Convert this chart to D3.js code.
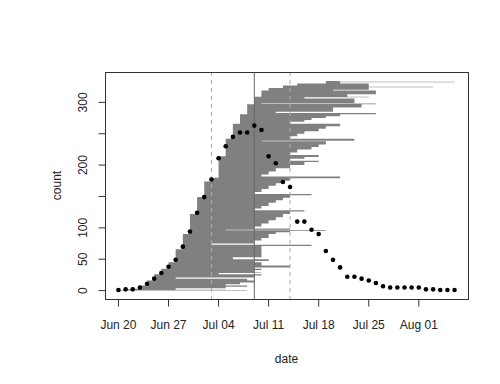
<!DOCTYPE html>
<html><head><meta charset="utf-8">
<script src="https://cdn.jsdelivr.net/npm/d3@7"></script>
<style>body{margin:0;background:#fff}svg{display:block}text{font-family:"Liberation Sans",Arial,sans-serif}</style>
</head><body><svg id="c" width="500" height="384"></svg>
<script>
// daily counts (points), Jun 20 .. Aug 06
const pointDates = d3.timeDays(new Date(2020,5,20), new Date(2020,7,7)).map(d=>d3.timeFormat("%m-%d")(d));
const pointCounts = [1,2,2,5,11,19,28,38,49,70,94,124,149,177,211,230,245,252,252,263,256,214,203,173,165,110,110,97,90,63,49,37,22,22,19,16,12,7,5,5,5,5,5,2,2,1,1,1];
// start cohorts: upper count of the rows starting on each date
const cohortStart = ["06-20","06-21","06-22","06-23","06-24","06-25","06-26","06-27","06-28","06-29","06-30","07-01","07-02","07-03","07-04","07-05","07-06","07-07","07-08","07-09","07-10","07-11","07-13","07-15","07-19"];
const cohortTop   = [1,2,3,8,16,26,35,45,66,90,122,149,174,180,214,242,266,281,297,309,319,323,327,330,334];
// end bands: upper count of rows and their end date
const endTop = [1,2,3,4,6,8,10,13,16,19,21,24,26,28,29,33,35,37,40,45,47,50,53,66,71,73,75,80,84,88,
  90,93,95,96,97,99,
  102,107,112,117,122,126,128,
  131,135,140,144,148,152,154,
  157,162,167,171,175,179,182,
  185,190,195,200,205,207,
  210,213,216,
  220,225,229,233,238,239,242,
  246,250,254,258,262,264,266,
  269,272,275,278,281,283,285,
  292,297,298,299,306,308,309,313,319,320,324,325,327,330,332,333,334];
const endDate = ["07-08","06-28","07-05","06-28","07-05","07-08","07-05","07-07","07-09","07-08","06-28","07-09","07-10","07-04","07-10","07-09","07-10","07-09","07-14","07-10","07-09","07-11","07-06","07-10","07-10","07-17","07-03","07-09","07-10","07-11",
  "07-11","07-12","07-14","07-19","07-05","07-14",
  "07-09","07-10","07-11","07-12","07-13","07-14","07-16",
  "07-09","07-10","07-11","07-12","07-13","07-14","07-17",
  "07-09","07-10","07-11","07-12","07-13","07-14","07-21",
  "07-10","07-11","07-12","07-14","07-16","07-18",
  "07-14","07-16","07-18",
  "07-14","07-15","07-17","07-18","07-19","07-10","07-23",
  "07-14","07-15","07-16","07-18","07-19","07-21","07-21",
  "07-14","07-16","07-17","07-19","07-21","07-26","07-12",
  "07-20","07-24","07-26","07-10","07-23","07-16","07-25","07-22","07-26","07-20","07-25","08-03","07-25","07-25","07-21","08-06","07-21"];
const vDashed = ["07-03","07-14"];
const vSolid = ["07-09"];
const xTicks = ["06-20","06-27","07-04","07-11","07-18","07-25","08-01"];
const yTicks = [0,50,100,150,200,250,300];
const yLabels = [0,50,100,200,300];

const P = s => { const [m,d]=s.split("-").map(Number); return new Date(2020,m-1,d); };
const svg = d3.select("#c");
const L=105,R=468,T=72,B=299;
const d0=P("06-20"), d1=P("08-06");
const xpad=(d1-d0)*0.04;
const x = d3.scaleTime().domain([new Date(+d0-xpad), new Date(+d1+xpad)]).range([L,R]);
const ymax=335, ypad=ymax*0.04;
const y = d3.scaleLinear().domain([-ypad, ymax+ypad]).range([B,T]);

// build rectangles from cohorts x end bands, drawn as one path (no seams)
const pth=d3.path();
let lo=0, ci=0, ei=0;
while(ci<cohortTop.length && ei<endTop.length){
  const hi=Math.min(cohortTop[ci], endTop[ei]);
  if(hi>lo){
    const xs=x(P(cohortStart[ci])), xe=x(P(endDate[ei]));
    if(xe>xs) pth.rect(xs, y(hi), xe-xs, y(lo)-y(hi));
  }
  lo=hi;
  if(cohortTop[ci]===hi) ci++;
  if(endTop[ei]===hi) ei++;
}
svg.append("path").attr("d",pth.toString()).attr("fill","#808080");

svg.append("g").selectAll("line").data(vDashed).join("line")
  .attr("x1",d=>x(P(d))).attr("x2",d=>x(P(d))).attr("y1",T).attr("y2",B)
  .attr("stroke","#aaaaaa").attr("stroke-dasharray","4,4");
svg.append("g").selectAll("line").data(vSolid).join("line")
  .attr("x1",d=>x(P(d))).attr("x2",d=>x(P(d))).attr("y1",T).attr("y2",B)
  .attr("stroke","#666666");

svg.append("g").selectAll("circle").data(pointDates.map((d,i)=>({d:P(d),c:pointCounts[i]}))).join("circle")
  .attr("cx",d=>x(d.d)).attr("cy",d=>y(d.c)).attr("r",2.3).attr("fill","#000");

svg.append("rect").attr("x",L+0.5).attr("y",T+0.5).attr("width",R-L).attr("height",B-T)
  .attr("fill","none").attr("stroke","#333");

const gx=svg.append("g").attr("transform",`translate(0,${B+0.5})`);
gx.selectAll("line").data(xTicks).join("line").attr("x1",d=>x(P(d))).attr("x2",d=>x(P(d))).attr("y1",0).attr("y2",7).attr("stroke","#333");
gx.selectAll("text").data(xTicks).join("text").attr("x",d=>x(P(d))).attr("y",29).attr("text-anchor","middle")
  .attr("font-size",12).attr("fill","#222").text(d=>d3.timeFormat("%b %d")(P(d)));
svg.append("text").attr("x",(L+R)/2).attr("y",363).attr("text-anchor","middle").attr("font-size",12).attr("fill","#222").text("date");

const gy=svg.append("g").attr("transform",`translate(${L+0.5},0)`);
gy.selectAll("line").data(yTicks).join("line").attr("x1",-7).attr("x2",0).attr("y1",d=>y(d)).attr("y2",d=>y(d)).attr("stroke","#333");
gy.selectAll("text").data(yLabels).join("text")
  .attr("transform",d=>`translate(-19,${y(d)}) rotate(-90)`).attr("text-anchor","middle")
  .attr("font-size",12).attr("fill","#222").text(d=>d);
svg.append("text").attr("transform",`translate(61,${(T+B)/2}) rotate(-90)`).attr("text-anchor","middle").attr("font-size",12).attr("fill","#222").text("count");
</script></body></html>
